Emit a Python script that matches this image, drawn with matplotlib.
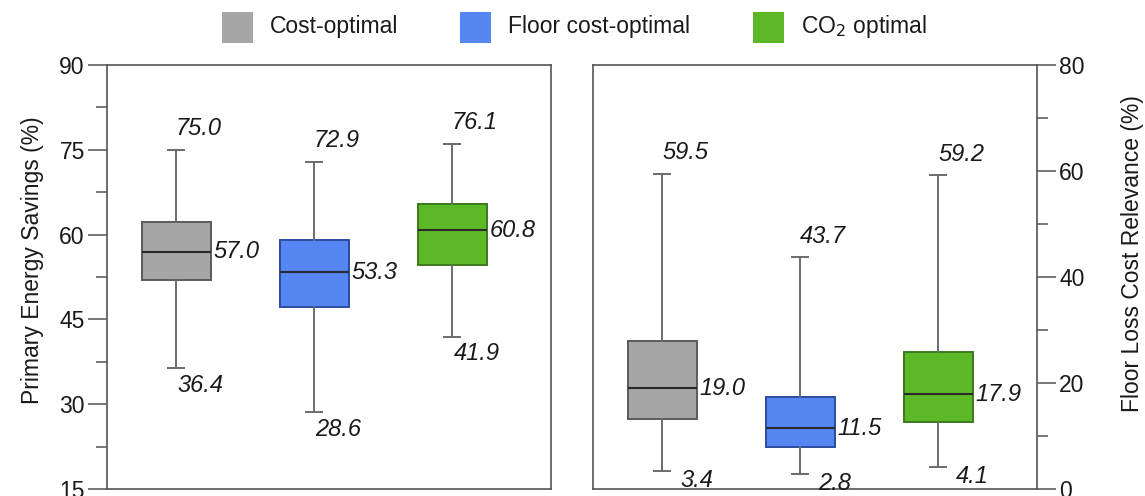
import matplotlib
matplotlib.use("Agg")
import matplotlib.pyplot as plt
from matplotlib.patches import Rectangle
from matplotlib.ticker import MultipleLocator

plt.rcParams['font.family'] = ['Liberation Sans', 'DejaVu Sans']

# Scenario names and colours
scenarios = ["Cost-optimal", "Floor cost-optimal", "CO$_2$ optimal"]
fills = ["#a6a6a6", "#5686f2", "#5db828"]
edges = ["#5a5a5a", "#2b4c9e", "#3b7a1c"]

# Primary energy savings (%): whisker low, Q1, median, Q3, whisker high
pes_low = [36.4, 28.6, 41.9]
pes_q1 = [51.9, 47.2, 54.7]
pes_med = [57.0, 53.3, 60.8]
pes_q3 = [62.3, 59.1, 65.5]
pes_high = [75.0, 72.9, 76.1]

# Floor loss cost relevance (%)
flc_low = [3.4, 2.8, 4.1]
flc_q1 = [13.3, 7.9, 12.7]
flc_med = [19.0, 11.5, 17.9]
flc_q3 = [27.9, 17.4, 25.8]
flc_high = [59.5, 43.7, 59.2]

W, H = 1145, 496
fig = plt.figure(figsize=(W / 100, H / 100), dpi=100)

ax1 = fig.add_axes([107 / W, 7 / H, 444 / W, 424 / H])
ax2 = fig.add_axes([593 / W, 7 / H, 444 / W, 424 / H])

positions = [1, 2, 3]
spine_col = "#555555"
ann_size = 17
tick_size = 16.5
label_size = 16.5


def draw_boxes(ax, low, q1, med, q3, high, bottom_side):
    stats = []
    for i in range(3):
        stats.append(dict(whislo=low[i], q1=q1[i], med=med[i], q3=q3[i],
                          whishi=high[i], fliers=[]))
    bp = ax.bxp(stats, positions=positions, widths=0.5, patch_artist=True,
                showfliers=False, capwidths=0.12,
                whiskerprops=dict(color="#6b6b6b", linewidth=1.4),
                capprops=dict(color="#6b6b6b", linewidth=1.4),
                medianprops=dict(color="#2a2a2a", linewidth=1.5))
    for patch, fc, ec in zip(bp["boxes"], fills, edges):
        patch.set_facecolor(fc)
        patch.set_edgecolor(ec)
        patch.set_linewidth(1.4)
    for i, p in enumerate(positions):
        kw = dict(fontsize=ann_size, style="italic", color="#1a1a1a")
        ax.annotate(f"{high[i]:.1f}", (p, high[i]), xytext=(0, 7),
                    textcoords="offset points", ha="left", va="bottom", **kw)
        ax.annotate(f"{med[i]:.1f}", (p + 0.25, med[i]), xytext=(2, 0),
                    textcoords="offset points", ha="left", va="center", **kw)
        if bottom_side == "below":
            ax.annotate(f"{low[i]:.1f}", (p, low[i]), xytext=(1, -4),
                        textcoords="offset points", ha="left", va="top", **kw)
        else:
            ax.annotate(f"{low[i]:.1f}", (p + 0.06, low[i]), xytext=(7, 1.5),
                        textcoords="offset points", ha="left", va="top", **kw)


draw_boxes(ax1, pes_low, pes_q1, pes_med, pes_q3, pes_high, "below")
draw_boxes(ax2, flc_low, flc_q1, flc_med, flc_q3, flc_high, "right")

for ax in (ax1, ax2):
    ax.set_xlim(0.5, 3.717)
    ax.set_xticks([])
    for s in ax.spines.values():
        s.set_color(spine_col)
        s.set_linewidth(1.2)
    ax.tick_params(axis="y", which="major", length=14, width=1.1,
                   color=spine_col, labelsize=tick_size, pad=2,
                   labelcolor="#1a1a1a")
    ax.tick_params(axis="y", which="minor", length=8, width=1.1,
                   color=spine_col)

ax1.set_ylim(15, 90)
ax1.yaxis.set_major_locator(MultipleLocator(15))
ax1.yaxis.set_minor_locator(MultipleLocator(7.5))
ax1.set_ylabel("Primary Energy Savings (%)", fontsize=label_size,
               color="#1a1a1a")
ax1.yaxis.set_label_coords(-0.142, 0.54)

ax2.set_ylim(0, 80)
ax2.yaxis.set_major_locator(MultipleLocator(20))
ax2.yaxis.set_minor_locator(MultipleLocator(10))
ax2.yaxis.tick_right()
ax2.yaxis.set_label_position("right")
ax2.set_ylabel("Floor Loss Cost Relevance (%)", fontsize=label_size,
               color="#1a1a1a")
ax2.yaxis.set_label_coords(1.19, 0.555)

# Legend row across the top
legend_x = [222, 460, 753]
for x0, fc, name in zip(legend_x, fills, scenarios):
    fig.add_artist(Rectangle((x0 / W, (H - 43) / H), 31 / W, 31 / H,
                             transform=fig.transFigure, facecolor=fc,
                             edgecolor="none"))
    fig.text((x0 + 48) / W, (H - 27) / H, name, fontsize=16.5,
             ha="left", va="center", color="#1a1a1a")

fig.savefig("out.png", dpi=100)
